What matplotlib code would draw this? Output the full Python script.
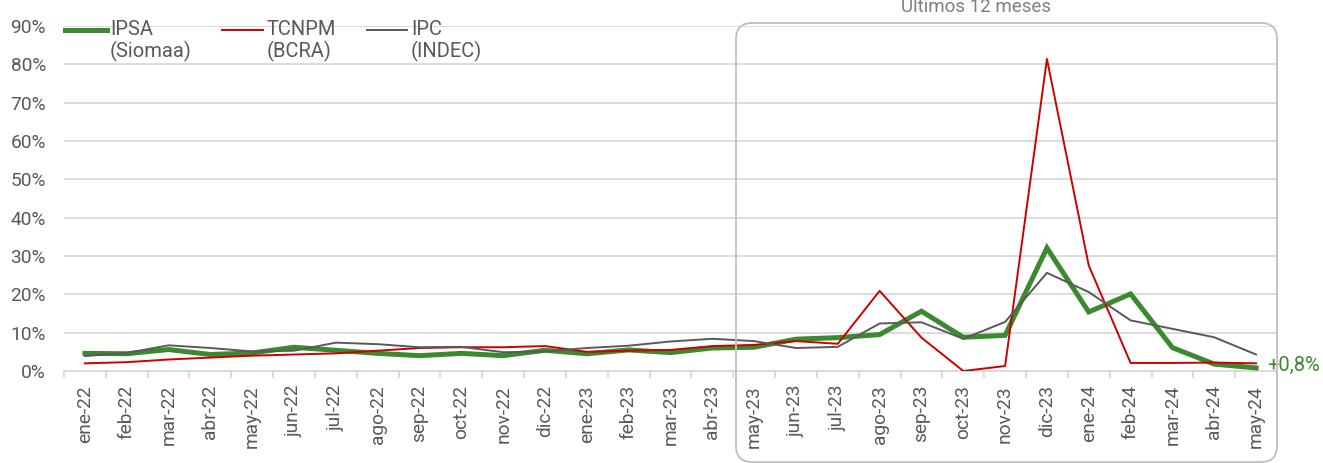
import matplotlib
matplotlib.use("Agg")
import matplotlib.pyplot as plt
from matplotlib.patches import FancyBboxPatch
from matplotlib.lines import Line2D
from matplotlib.transforms import IdentityTransform
import numpy as np

plt.rcParams['font.family'] = ['Roboto', 'DejaVu Sans']

months = ["ene-22", "feb-22", "mar-22", "abr-22", "may-22", "jun-22", "jul-22", "ago-22",
          "sep-22", "oct-22", "nov-22", "dic-22", "ene-23", "feb-23", "mar-23", "abr-23",
          "may-23", "jun-23", "jul-23", "ago-23", "sep-23", "oct-23", "nov-23", "dic-23",
          "ene-24", "feb-24", "mar-24", "abr-24", "may-24"]

ipsa = [4.6, 4.5, 5.6, 4.3, 4.7, 6.2, 5.4, 4.6, 4.0, 4.6, 4.0, 5.4, 4.5, 5.5, 4.8, 6.0,
        6.2, 8.3, 8.7, 9.5, 15.6, 8.8, 9.3, 32.1, 15.4, 20.1, 6.1, 1.8, 0.8]
tcnpm = [2.0, 2.3, 3.0, 3.5, 4.0, 4.3, 4.6, 5.3, 6.0, 6.2, 6.2, 6.5, 5.0, 5.3, 5.5, 6.5,
         6.8, 7.8, 7.1, 20.9, 8.7, 0.0, 1.3, 81.4, 27.5, 2.1, 2.1, 2.2, 2.0]
ipc = [3.9, 4.7, 6.7, 6.0, 5.1, 5.3, 7.4, 7.0, 6.2, 6.3, 4.9, 5.1, 6.0, 6.6, 7.7, 8.4,
       7.8, 6.0, 6.3, 12.4, 12.7, 8.4, 12.8, 25.6, 20.6, 13.2, 11.0, 8.8, 4.3]
series_labels = ["IPSA\n(Siomaa)", "TCNPM\n(BCRA)", "IPC\n(INDEC)"]
last_label = "+0,8%"
box_title = "Últimos 12 meses"

GREEN = "#3b8a2f"
RED = "#cc0000"
GRAY = "#595959"
TXT = "#595959"
FS = 13.8

W, H = 1323, 463
fig = plt.figure(figsize=(W / 100, H / 100), dpi=100)
ax = fig.add_axes([64 / W, 1 - 371 / H, (1277 - 64) / W, (371 - 26) / H])

x = np.arange(len(months))
ax.plot(x, ipsa, color=GREEN, lw=3.6, zorder=3, solid_joinstyle='miter')
ax.plot(x, tcnpm, color=RED, lw=1.4, zorder=4)
ax.plot(x, ipc, color=GRAY, lw=1.4, zorder=5)

ax.set_xlim(-0.5, len(months) - 0.5)
ax.set_ylim(0, 90)
ax.set_yticks(np.arange(0, 91, 10))
ax.set_yticklabels([f"{v}%" for v in range(0, 91, 10)])
ax.yaxis.grid(True, color="#d9d9d9", lw=1.3)
ax.set_axisbelow(True)
for s in ["left", "right", "top"]:
    ax.spines[s].set_visible(False)
ax.spines["bottom"].set_color("#d9d9d9")
ax.spines["bottom"].set_linewidth(1.3)
ax.tick_params(axis="y", length=0, labelsize=FS, labelcolor=TXT, pad=13)
ax.set_xticks(x)
ax.set_xticklabels(months, rotation=90)
ax.tick_params(axis="x", which="major", length=0, labelsize=FS, labelcolor=TXT, pad=10)
ax.set_xticks(np.arange(-0.5, len(months), 1), minor=True)
ax.tick_params(axis="x", which="minor", length=5, color="#d9d9d9", width=1.3)

ax.annotate(last_label, xy=(x[-1], ipsa[-1]), xytext=(8, 2), textcoords="offset points",
            color=GREEN, fontsize=14.5, va="center", ha="left", annotation_clip=False)

# Custom legend
leg_items = [(65, 107, 110, GREEN, 3.6), (222, 263, 267, RED, 1.4), (367, 407, 411, GRAY, 1.4)]
for (x0, x1, tx, c, lw), lab in zip(leg_items, series_labels):
    fig.add_artist(Line2D([x0 / W, x1 / W], [1 - 30 / H, 1 - 30 / H], color=c, lw=lw,
                          transform=fig.transFigure))
    fig.text(tx / W, 1 - 20 / H, lab, color=TXT, fontsize=14.5, va="top", ha="left",
             linespacing=1.12)

# Rounded box for last 12 months
box = FancyBboxPatch((736, 1), 1277 - 736, (H - 23) - 1,
                     boxstyle="round,pad=0,rounding_size=16",
                     transform=IdentityTransform(), fill=False,
                     edgecolor="#bfbfbf", lw=1.3, zorder=10)
fig.add_artist(box)
fig.text(976 / W, 1 - 12 / H, box_title, color="#7f7f7f", fontsize=13.5,
         ha="center", va="baseline")

fig.savefig("out.png", dpi=100)
